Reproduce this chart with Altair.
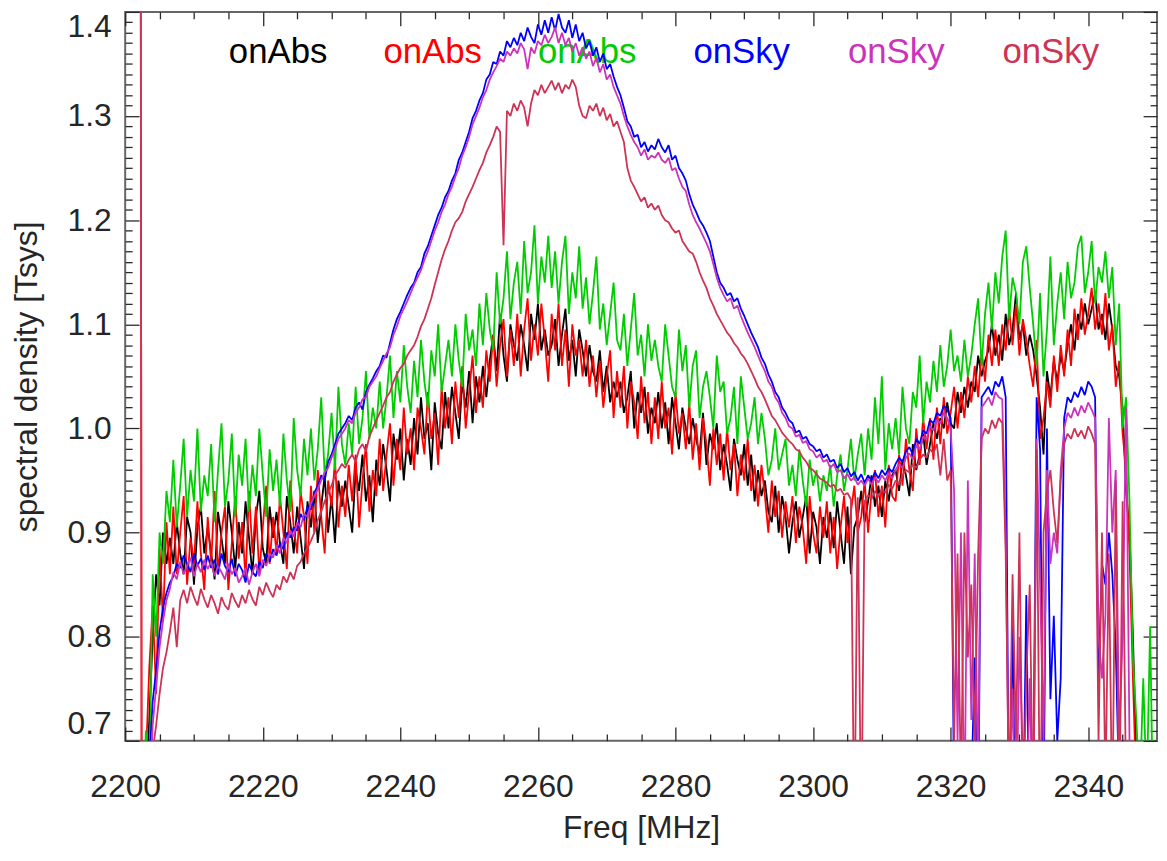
import altair as alt
import pandas as pd

# ---------------- data ----------------
# Channel grid of the spectra
FREQ_START_MHZ = 2202.0
CHANNEL_MHZ = 0.5

# Spectral density in units of 0.001 Tsys, one value per channel (2202.0, 2202.5, ... MHz)
onabs_black = [
    600, 600, 640, 720, 800, 860, 830, 900, 870, 895,
    870, 910, 880, 860, 915, 900, 850, 905, 925, 880,
    905, 880, 855, 920, 895, 870, 930, 900, 865, 910,
    880, 930, 895, 860, 915, 940, 885, 870, 925, 895,
    920, 890, 870, 935, 910, 880, 925, 895, 865, 930,
    905, 940, 890, 925, 955, 900, 935, 890, 950, 925,
    950, 925, 900, 960, 940, 975, 930, 955, 910, 970,
    945, 985, 960, 930, 995, 970, 1000, 950, 990, 965,
    1010, 975, 1030, 990, 1005, 960, 1025, 995, 980, 1035,
    1000, 1040, 1015, 990, 1045, 1020, 1055, 1005, 1050, 1025,
    1060, 1030, 1065, 1090, 1055, 1110, 1070, 1045, 1100, 1080,
    1065, 1100, 1080, 1055, 1110, 1085, 1120, 1075, 1095, 1070,
    1080, 1105, 1060, 1090, 1115, 1065, 1085, 1050, 1095, 1075,
    1050, 1080, 1055, 1045, 1075, 1035, 1060, 1025, 1045, 1030,
    1045, 1015, 1030, 1055, 1000, 1035, 1015, 1040, 995, 1020,
    1005, 1035, 1000, 1025, 985, 1030, 1005, 980, 1020, 1000,
    985, 1010, 990, 975, 1015, 965, 995, 980, 1005, 960,
    985, 965, 940, 990, 970, 955, 985, 945, 975, 930,
    960, 935, 950, 920, 910, 945, 900, 935, 915, 880,
    910, 930, 895, 915, 935, 880, 920, 905, 870, 915,
    895, 920, 885, 930, 900, 870, 925, 860, 905, 915,
    940, 910, 930, 955, 925, 945, 915, 950, 930, 955,
    960, 940, 970, 955, 935, 985, 960, 975, 995, 965,
    985, 1005, 990, 1010, 1000, 1025, 1005, 1000, 1035, 1015,
    1040, 1020, 1045, 1035, 1070, 1050, 1065, 1075, 1100, 1070,
    1090, 1065, 1110, 1080, 1095, 1130, 1085, 1100, 1070, 1090,
    1075, 1050, 1020, 975, 1055, 1030, 1065, 1045, 1070, 1055,
    1080, 1100, 1075, 1110, 1095, 1120, 1100, 1115, 1130, 1095,
    1110, 1085, 1120, 1095, 1060, 1050, 1020, 940, 900, 800,
    680, 600, 500, 500, 500, 500,
]

onabs_red = [
    3000, 0, 680, 770, 830, 745, 885, 815, 910, 860,
    925, 860, 900, 935, 850, 895, 870, 930, 880, 845,
    915, 870, 940, 860, 900, 925, 845, 890, 935, 875,
    910, 855, 940, 880, 925, 860, 905, 945, 870, 915,
    880, 935, 900, 865, 950, 905, 880, 940, 915, 870,
    945, 900, 960, 915, 880, 950, 925, 970, 905, 945,
    915, 965, 930, 975, 905, 950, 985, 920, 960, 935,
    990, 940, 975, 1005, 945, 990, 960, 1020, 975, 1000,
    960, 1020, 1000, 975, 1035, 990, 1015, 965, 1040, 1000,
    1030, 985, 1045, 1010, 1060, 1000, 1035, 1070, 1015, 1050,
    1020, 1075, 1045, 1090, 1040, 1080, 1105, 1050, 1095, 1060,
    1110, 1050, 1095, 1125, 1065, 1100, 1070, 1120, 1085, 1045,
    1110, 1075, 1120, 1060, 1095, 1040, 1100, 1070, 1085, 1050,
    1085, 1040, 1070, 1030, 1065, 1020, 1050, 1075, 1010, 1055,
    1020, 1060, 1000, 1045, 1025, 990, 1050, 1005, 1035, 985,
    1030, 990, 1045, 1000, 1020, 975, 1035, 995, 1015, 980,
    1025, 970, 1005, 960, 1010, 985, 945, 1000, 965, 995,
    950, 1000, 960, 985, 935, 975, 950, 990, 940, 965,
    925, 965, 935, 900, 950, 915, 940, 895, 930, 905,
    935, 890, 925, 905, 870, 935, 900, 880, 925, 895,
    930, 880, 915, 865, 905, 935, 890, 920, 945, 900,
    915, 950, 900, 940, 960, 915, 945, 905, 965, 935,
    930, 975, 945, 990, 960, 940, 1000, 965, 1010, 980,
    1010, 970, 1020, 985, 1030, 995, 1015, 1040, 1000, 1035,
    1010, 1050, 1025, 1060, 1030, 1075, 1045, 1090, 1060, 1095,
    1060, 1100, 1075, 1115, 1080, 1120, 1070, 1105, 1085, 1060,
    1040, 1085, 990, 1010, 1045, 1020, 1070, 1035, 1080, 1050,
    1095, 1060, 1115, 1085, 1125, 1090, 1110, 1135, 1095, 1120,
    1090, 1130, 1075, 1100, 1040, 1065, 995, 960, 880, 760,
    650, 600, 500, 500, 500, 500,
]

onabs_green = [
    600, 600, 710, 650, 860, 800, 900, 870, 940, 910,
    970, 905, 945, 990, 915, 960, 930, 1000, 920, 955,
    935, 985, 910, 960, 1005, 925, 950, 995, 915, 975,
    945, 990, 920, 965, 935, 1000, 955, 915, 980, 940,
    970, 925, 995, 950, 920, 1010, 960, 935, 990, 955,
    1000, 950, 980, 1030, 955, 975, 1015, 960, 1040, 985,
    965, 1005, 975, 1040, 985, 1010, 1055, 990, 1020, 1000,
    1045, 1000, 1030, 1070, 1010, 1055, 1025, 1080, 1040, 1015,
    1065, 1030, 1085, 1045, 1020, 1075, 1050, 1100, 1035, 1060,
    1085, 1050, 1100, 1065, 1040, 1110, 1075, 1095, 1060, 1120,
    1080, 1130, 1095, 1075, 1150, 1100, 1125, 1170, 1105, 1140,
    1160, 1110, 1180, 1130, 1150, 1195, 1120, 1165, 1140, 1185,
    1135, 1170, 1120, 1160, 1185, 1110, 1150, 1125, 1175, 1115,
    1145, 1100, 1130, 1165, 1095, 1120, 1080, 1110, 1140, 1085,
    1075, 1110, 1060, 1095, 1130, 1070, 1090, 1050, 1100, 1065,
    1085, 1060, 1045, 1100, 1070, 1040, 1030, 1095, 1055, 1080,
    1020, 1060, 1075, 1010, 1040, 1055, 1030, 1000, 1070, 1035,
    1045, 995, 1010, 1040, 985, 1050, 1020, 990, 1005, 1030,
    985, 1015, 990, 955, 970, 1000, 960, 975, 990, 945,
    965, 935, 980, 950, 925, 970, 945, 960, 930, 955,
    940, 965, 925, 955, 975, 940, 960, 990, 950, 975,
    995, 955, 1000, 970, 1030, 985, 1050, 960, 1005, 980,
    1010, 975, 1040, 1000, 985, 1035, 1020, 1070, 1005, 1045,
    1025, 1065, 1035, 1080, 1040, 1060, 1095, 1055, 1070, 1045,
    1085, 1050, 1070, 1100, 1125, 1060, 1110, 1140, 1095, 1150,
    1120, 1165, 1190, 1105, 1145, 1130, 1100, 1160, 1175, 1135,
    1100, 1060, 1130, 1050, 1095, 1165, 1080, 1120, 1150, 1105,
    1160, 1125, 1140, 1175, 1185, 1130, 1150, 1180, 1120, 1155,
    1140, 1170, 1125, 1155, 1080, 1120, 1000, 1030, 930, 780,
    720, 650, 760, 650, 810, 600,
]

onsky_blue = [
    500, 500, 600, 680, 738, 768, 805, 828, 842, 852,
    858, 870, 866, 878, 870, 862, 880, 868, 875, 864,
    878, 866, 874, 860, 880, 868, 862, 875, 858, 870,
    864, 852, 870, 862, 858, 872, 866, 880, 872, 884,
    878, 890, 884, 900, 895, 905, 902, 918, 912, 925,
    922, 938, 945, 955, 950, 968, 975, 985, 995, 1000,
    1005, 1012, 1008, 1020, 1025, 1018, 1035, 1042, 1048, 1055,
    1060, 1070, 1068, 1082, 1095, 1105, 1112, 1120, 1128, 1135,
    1140, 1150, 1155, 1168, 1175, 1185, 1195, 1205, 1212, 1222,
    1228, 1238, 1245, 1258, 1265, 1275, 1285, 1298, 1305, 1315,
    1322, 1335, 1340, 1352, 1350, 1362, 1358, 1372, 1366, 1375,
    1368, 1380, 1372, 1385, 1376, 1370, 1388, 1378, 1392, 1380,
    1395, 1382, 1398, 1385, 1380, 1392, 1375, 1388, 1372, 1380,
    1365, 1372, 1358, 1366, 1352, 1360, 1345, 1350, 1338, 1328,
    1320, 1308, 1295, 1290, 1280, 1282, 1270, 1275, 1266, 1272,
    1268, 1278, 1270, 1265, 1272, 1258, 1262, 1250, 1245, 1238,
    1225, 1215, 1208, 1200, 1195, 1188, 1180, 1165, 1150, 1140,
    1135, 1128, 1130, 1122, 1125, 1115, 1108, 1100, 1092, 1085,
    1078, 1068, 1062, 1052, 1045, 1035, 1030, 1020, 1015, 1008,
    1005, 996, 998, 990, 992, 985, 983, 978, 980, 972,
    975, 968, 970, 962, 966, 958, 962, 954, 958, 950,
    956, 948, 955, 950, 958, 952, 960, 955, 962, 958,
    966, 972, 968, 978, 982, 975, 990, 985, 998, 995,
    1008, 1005, 1015, 1012, 1022, 1018, 1010, 640, 600, 620,
    560, 600, 650, 780, 600, 1030, 1035, 1040, 1032, 1045,
    1040, 1050, 1030, 600, 820, 560, 640, 600, 840, 560,
    650, 1030, 980, 620, 1000, 740, 820, 700, 760, 1010,
    1030, 1025, 1035, 1030, 1040, 1032, 1045, 1040, 1030, 760,
    870, 850, 900, 860, 790, 650, 700, 600, 560, 500,
    500, 500, 500, 500, 500, 500,
]

onsky_magenta = [
    500, 500, 560, 640, 715, 752, 790, 815, 835, 846,
    862, 855, 872, 860, 868, 876, 858, 870, 862, 874,
    865, 872, 858, 868, 862, 855, 870, 860, 866, 852,
    858, 866, 850, 862, 870, 858, 874, 868, 880, 876,
    888, 880, 895, 890, 902, 896, 910, 905, 918, 915,
    928, 935, 942, 950, 958, 962, 972, 980, 990, 995,
    1000, 1008, 1005, 1015, 1020, 1028, 1030, 1040, 1045, 1050,
    1058, 1065, 1072, 1078, 1090, 1098, 1108, 1115, 1122, 1130,
    1138, 1145, 1152, 1162, 1170, 1180, 1190, 1198, 1208, 1215,
    1225, 1232, 1242, 1250, 1262, 1270, 1280, 1292, 1300, 1308,
    1318, 1325, 1335, 1342, 1348, 1355, 1352, 1362, 1358, 1365,
    1360, 1370, 1364, 1345, 1366, 1360, 1372, 1368, 1378, 1370,
    1376, 1385, 1370, 1380, 1368, 1375, 1362, 1370, 1358, 1366,
    1355, 1362, 1348, 1356, 1342, 1350, 1335, 1340, 1328, 1320,
    1312, 1300, 1290, 1282, 1275, 1270, 1262, 1268, 1258, 1262,
    1260, 1265, 1258, 1255, 1260, 1248, 1250, 1240, 1232, 1228,
    1215, 1205, 1198, 1192, 1185, 1178, 1170, 1158, 1145, 1135,
    1128, 1122, 1125, 1115, 1118, 1108, 1100, 1092, 1085, 1078,
    1070, 1062, 1055, 1045, 1040, 1030, 1025, 1015, 1010, 1002,
    1000, 992, 994, 986, 988, 980, 978, 972, 975, 968,
    970, 962, 966, 958, 960, 952, 956, 950, 953, 946,
    950, 945, 952, 946, 953, 948, 955, 950, 957, 952,
    960, 966, 962, 972, 976, 970, 984, 980, 992, 990,
    1002, 998, 1008, 1005, 1015, 1010, 1000, 940, 700, 900,
    620, 950, 720, 880, 650, 1020, 1025, 1030, 1022, 1035,
    1030, 1028, 900, 620, 750, 600, 800, 680, 620, 760,
    600, 990, 850, 700, 960, 870, 900, 880, 960, 1000,
    1015, 1010, 1020, 1012, 1022, 1015, 1025, 1018, 1010, 800,
    760, 820, 1010, 900, 960, 700, 800, 1020, 700, 600,
    500, 500, 500, 500, 500, 500,
]

onsky_crimson = [
    3000, 0, 600, 650, 690, 715, 745, 770, 785, 805,
    828, 790, 835, 845, 832, 848, 838, 830, 846, 836,
    828, 840, 832, 822, 838, 830, 826, 842, 834, 828,
    840, 832, 845, 836, 830, 848, 840, 852, 844, 838,
    850, 845, 858, 852, 862, 855, 868, 872, 880, 885,
    892, 900, 912, 920, 930, 938, 945, 955, 960, 966,
    962, 970, 975, 968, 980, 985, 978, 992, 1000, 1008,
    1015, 1022, 1030, 1035, 1045, 1052, 1058, 1062, 1070, 1075,
    1080, 1088, 1098, 1105, 1115, 1125, 1138, 1150, 1162, 1172,
    1180, 1190, 1198, 1202, 1208, 1218, 1225, 1232, 1240, 1248,
    1255, 1265, 1272, 1280, 1290, 1285, 1176, 1305, 1300, 1312,
    1305, 1315, 1308, 1290, 1312, 1325, 1320, 1330, 1322, 1328,
    1334, 1325, 1332, 1322, 1330, 1326, 1335, 1328, 1310, 1300,
    1298, 1310, 1305, 1312, 1300, 1308, 1296, 1302, 1290, 1295,
    1285, 1275, 1250, 1238, 1232, 1225, 1218, 1222, 1212, 1216,
    1210, 1214, 1205, 1200, 1198, 1192, 1188, 1190, 1180, 1175,
    1170, 1168, 1160, 1150, 1142, 1135, 1125, 1118, 1110, 1104,
    1098, 1092, 1088, 1082, 1078, 1072, 1068, 1062, 1055, 1048,
    1040, 1035, 1028, 1020, 1012, 1008, 1002, 996, 992, 988,
    985, 980, 978, 972, 968, 962, 960, 956, 952, 950,
    948, 944, 946, 940, 942, 936, 938, 932, 600, 934,
    600, 930, 936, 932, 940, 934, 942, 938, 946, 942,
    950, 946, 955, 960, 958, 966, 962, 970, 975, 972,
    980, 976, 985, 955, 990, 950, 960, 700, 880, 650,
    900, 780, 850, 700, 880, 990, 1000, 995, 1008, 1000,
    1010, 1005, 880, 640, 860, 700, 900, 620, 760, 850,
    620, 980, 600, 900, 940, 960, 920, 890, 950, 985,
    995, 990, 1000, 992, 998, 990, 1002, 995, 985, 700,
    900, 650, 880, 620, 950, 600, 930, 650, 600, 500,
    500, 500, 500, 500, 500, 500,
]

SERIES_NAMES = ["onAbs", "onAbs", "onAbs", "onSky", "onSky", "onSky"]
SERIES_COLORS = ["#000000", "#ff0000", "#00cc00", "#0000ff", "#cc33bb", "#cc3355"]

X_MAJOR_TICKS = [2200, 2220, 2240, 2260, 2280, 2300, 2320, 2340]
X_MINOR_TICKS = [v for v in range(2205, 2350, 5) if v % 20 != 0]
Y_MAJOR_TICKS = [0.7, 0.8, 0.9, 1.0, 1.1, 1.2, 1.3, 1.4]
Y_MINOR_TICKS = [round(0.7 + 0.01 * k, 2) for k in range(71) if k % 10 != 0]

# ---------------- styling ----------------
FONT = "Liberation Sans"
TEXT_COLOR = "#262626"
TICK_COLOR = "#2a2a2a"
FS = 32
LEGEND_FS = 35
W, H = 1039, 734
LABEL_X0, LABEL_DX, LABEL_Y = 154, 155.6, 51
LINE_W = 1.8


def frame(values):
    return pd.DataFrame({
        "freq": [FREQ_START_MHZ + CHANNEL_MHZ * i for i in range(len(values))],
        "val": [v / 1000.0 for v in values],
    })


common = dict(grid=False, domain=False, tickColor=TICK_COLOR, tickWidth=1.3,
              labelFont=FONT, titleFont=FONT, labelColor=TEXT_COLOR,
              titleColor=TEXT_COLOR, labelFontSize=FS, titleFontSize=FS,
              titleFontWeight="normal")

ax_bottom_major = alt.Axis(orient="bottom", values=X_MAJOR_TICKS, tickSize=14, offset=-14,
                           labelPadding=31, labelFlush=False, labelOverlap=False,
                           format="d", title="Freq [MHz]", titlePadding=10, **common)
ax_bottom_minor = alt.Axis(orient="bottom", values=X_MINOR_TICKS, tickSize=7, offset=-7,
                           labels=False, title=None, **common)
ax_top_major = alt.Axis(orient="top", values=X_MAJOR_TICKS, tickSize=14, offset=-14,
                        labels=False, title=None, **common)
ax_top_minor = alt.Axis(orient="top", values=X_MINOR_TICKS, tickSize=7, offset=-7,
                        labels=False, title=None, **common)

ax_left_major = alt.Axis(orient="left", values=Y_MAJOR_TICKS, tickSize=14, offset=-14,
                         labelPadding=14, labelFlush=True, labelOverlap=False,
                         format=".1f", title="spectral density [Tsys]", titlePadding=24,
                         **common)
ax_left_minor = alt.Axis(orient="left", values=Y_MINOR_TICKS, tickSize=7, offset=-7,
                         labels=False, title=None, **common)
ax_right_major = alt.Axis(orient="right", values=Y_MAJOR_TICKS, tickSize=14, offset=-14,
                          labels=False, title=None, **common)
ax_right_minor = alt.Axis(orient="right", values=Y_MINOR_TICKS, tickSize=7, offset=-7,
                          labels=False, title=None, **common)

xs = alt.Scale(domain=[2200, 2350], nice=False, zero=False)
ys = alt.Scale(domain=[0.7, 1.4], nice=False, zero=False)


def line_layer(values, color, xaxis, yaxis):
    return alt.Chart(frame(values)).mark_line(
        clip=True, strokeWidth=LINE_W, strokeJoin="bevel", color=color
    ).encode(
        x=alt.X("freq:Q", scale=xs, axis=xaxis),
        y=alt.Y("val:Q", scale=ys, axis=yaxis),
    )


l_black = line_layer(onabs_black, SERIES_COLORS[0], ax_bottom_major, ax_left_major)
l_red = line_layer(onabs_red, SERIES_COLORS[1], ax_bottom_minor, ax_left_minor)
l_green = line_layer(onabs_green, SERIES_COLORS[2], ax_top_major, ax_right_major)
l_blue = line_layer(onsky_blue, SERIES_COLORS[3], ax_top_minor, ax_right_minor)
l_magenta = line_layer(onsky_magenta, SERIES_COLORS[4], None, None)
l_crimson = line_layer(onsky_crimson, SERIES_COLORS[5], None, None)

labels_df = pd.DataFrame({"name": SERIES_NAMES, "color": SERIES_COLORS,
                          "i": list(range(len(SERIES_NAMES)))})
labels = alt.Chart(labels_df).transform_calculate(
    px=f"{LABEL_X0} + {LABEL_DX} * datum.i"
).mark_text(font=FONT, fontSize=LEGEND_FS, baseline="alphabetic", align="center").encode(
    x=alt.X("px:Q", scale=None, axis=None),
    y=alt.value(LABEL_Y),
    text="name:N",
    color=alt.Color("color:N", scale=None),
)

chart = alt.layer(
    l_black, l_red, l_green, labels, l_blue, l_magenta, l_crimson
).resolve_scale(
    x="shared", y="shared"
).resolve_axis(
    x="independent", y="independent"
).properties(
    width=W, height=H,
    autosize=alt.AutoSizeParams(type="none"),
    padding={"left": 118, "top": 1, "right": 2, "bottom": 110},
    background="white",
).configure_view(
    stroke="#666666", strokeWidth=2
)

chart.save("out.html", embed_options={"renderer": "svg", "actions": False})
